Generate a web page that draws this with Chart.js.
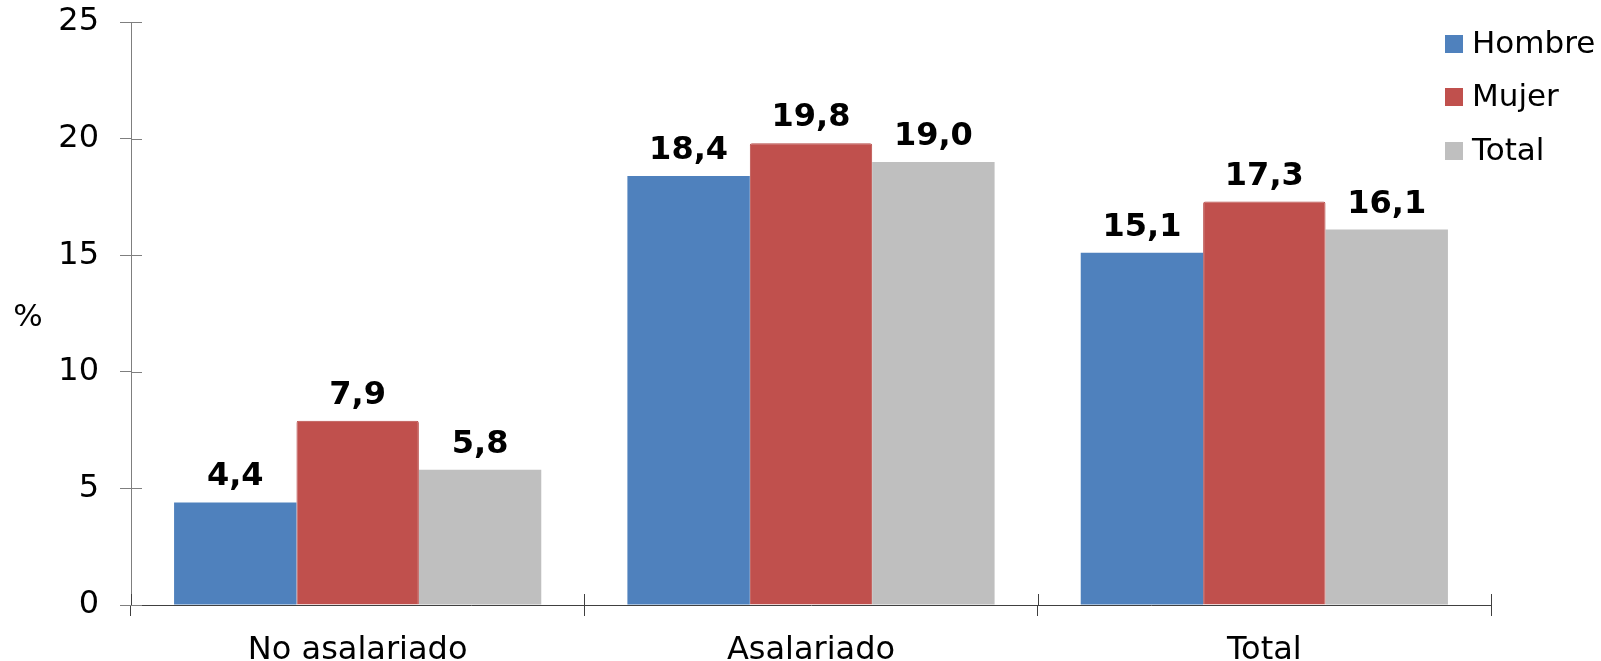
<!DOCTYPE html>
<html>
<head>
<meta charset="utf-8">
<script src="https://cdn.jsdelivr.net/npm/chart.js@4"></script>
<style>
  html, body { margin: 0; padding: 0; background: #fff; }
  #wrap { width: 1601px; height: 661px; }
</style>
</head>
<body>
<div id="wrap"><canvas id="myChart" width="1601" height="661"></canvas></div>
<script>
var categories = ["No asalariado", "Asalariado", "Total"];
var hombre = [4.4, 18.4, 15.1];
var mujer = [7.9, 19.8, 17.3];
var total = [5.8, 19.0, 16.1];
var seriesNames = ["Hombre", "Mujer", "Total"];
var yTicks = [0, 5, 10, 15, 20, 25];

var barColors = ["#4F81BD", "#C0504D", "#BFBFBF"];
var fontFam = "'DejaVu Sans', Verdana, sans-serif";

// labels above bars, legend top right, "%" title, inner tick marks
var extras = {
  id: "extras",
  afterDatasetsDraw: function (chart) {
    var ctx = chart.ctx;
    ctx.save();
    ctx.fillStyle = "#000";
    ctx.font = "bold 32px " + fontFam;
    ctx.textAlign = "center";
    ctx.textBaseline = "alphabetic";
    chart.data.datasets.forEach(function (ds, i) {
      chart.getDatasetMeta(i).data.forEach(function (bar, j) {
        var txt = ds.data[j].toFixed(1).replace(".", ",");
        ctx.fillText(txt, bar.x, bar.y - 17);
      });
    });
    ctx.restore();
  },
  afterDraw: function (chart) {
    var ctx = chart.ctx;
    var y = chart.scales.y;
    var x = chart.scales.x;
    var area = chart.chartArea;
    ctx.save();
    ctx.lineWidth = 1;
    // inner half of y ticks
    ctx.strokeStyle = "#7f7f7f";
    yTicks.forEach(function (v) {
      var py = Math.round(y.getPixelForValue(v)) + 0.5;
      ctx.beginPath();
      ctx.moveTo(area.left, py);
      ctx.lineTo(area.left + 11, py);
      ctx.stroke();
    });
    // inner half of x ticks (category boundaries)
    ctx.strokeStyle = "#404040";
    for (var i = 0; i <= categories.length; i++) {
      var px = Math.round(x.getPixelForValue(i - 0.5)) + 0.5;
      ctx.beginPath();
      ctx.moveTo(px, area.bottom);
      ctx.lineTo(px, area.bottom - 11);
      ctx.stroke();
    }
    // axis title
    ctx.fillStyle = "#000";
    ctx.font = "31px " + fontFam;
    ctx.textAlign = "center";
    ctx.textBaseline = "middle";
    ctx.fillText("%", 28, (area.top + area.bottom) / 2 + 4);
    // legend
    ctx.font = "31px " + fontFam;
    ctx.textAlign = "left";
    var rows = [44, 97, 151];
    chart.data.datasets.forEach(function (ds, i) {
      ctx.fillStyle = ds.backgroundColor;
      ctx.fillRect(1445, rows[i] - 9, 18, 18);
      ctx.fillStyle = "#000";
      ctx.fillText(ds.label, 1472, rows[i] + 1);
    });
    ctx.restore();
  }
};

new Chart("myChart", {
  type: "bar",
  data: {
    labels: categories,
    datasets: [
      { label: seriesNames[0], data: hombre, backgroundColor: barColors[0] },
      { label: seriesNames[1], data: mujer, backgroundColor: barColors[1], borderColor: "#B84A47", borderWidth: 1, borderRadius: 2, borderSkipped: "bottom" },
      { label: seriesNames[2], data: total, backgroundColor: barColors[2] }
    ]
  },
  options: {
    responsive: false,
    animation: false,
    datasets: { bar: { categoryPercentage: 0.81, barPercentage: 1.0 } },
    layout: { padding: { top: 22, right: 110, left: 0, bottom: 0 } },
    plugins: {
      legend: { display: false },
      tooltip: { enabled: false }
    },
    scales: {
      x: {
        grid: { display: true, drawOnChartArea: false, drawTicks: true, tickLength: 11, color: "#404040", offset: true },
        border: { display: true, color: "#404040", width: 1 },
        ticks: { color: "#000", font: { family: fontFam, size: 32 }, padding: 15 },
        afterFit: function (s) { s.height = 56; }
      },
      y: {
        min: 0,
        max: 25,
        afterBuildTicks: function (s) { s.ticks = yTicks.map(function (v) { return { value: v }; }); },
        grid: { display: true, drawOnChartArea: false, drawTicks: true, tickLength: 11, color: "#7f7f7f" },
        border: { display: true, color: "#7f7f7f", width: 1 },
        ticks: { color: "#000", font: { family: fontFam, size: 32 }, padding: 21 },
        afterFit: function (s) { s.width = 131; s.paddingTop = 0; s.paddingBottom = 0; }
      }
    }
  },
  plugins: [extras]
});
</script>
</body>
</html>
